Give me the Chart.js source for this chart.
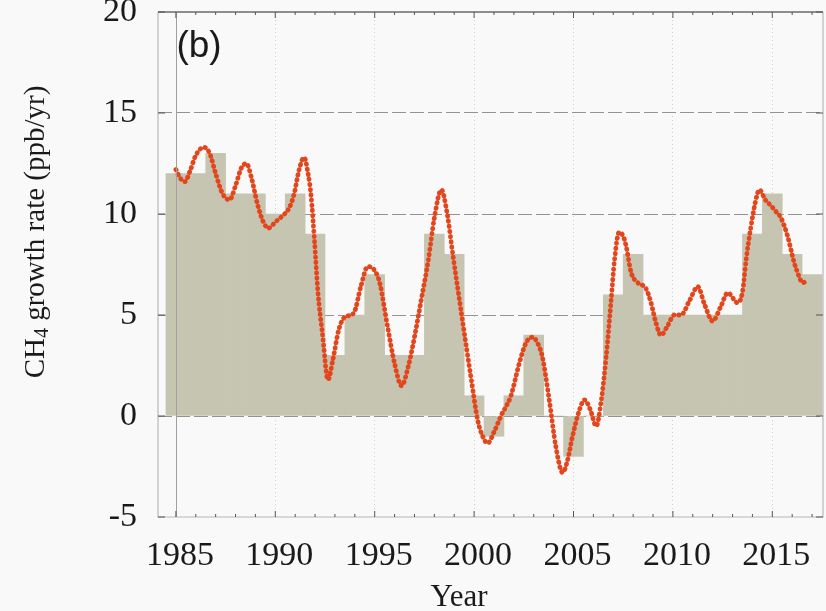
<!DOCTYPE html>
<html>
<head>
<meta charset="utf-8">
<title>CH4 growth rate</title>
<script src="https://cdn.jsdelivr.net/npm/chart.js@4.4.1/dist/chart.umd.min.js"></script>
<style>
    html, body { margin: 0; padding: 0; background: #f9f9f9; }
    #wrap { position: relative; width: 826px; height: 611px; }
</style>
</head>
<body>
<div id="wrap"><canvas id="ch4Chart"></canvas></div>
<script>
// annual growth rate (grey bars), ppb/yr
const barYears = [1985, 1986, 1987, 1988, 1989, 1990, 1991, 1992, 1993, 1994, 1995,
    1996, 1997, 1998, 1999, 2000, 2001, 2002, 2003, 2004, 2005, 2006, 2007, 2008,
    2009, 2010, 2011, 2012, 2013, 2014, 2015, 2016, 2017];
const barValues = [12, 12, 13, 11, 11, 10, 11, 9, 3, 5, 7,
    3, 3, 9, 8, 1, -1, 1, 4, 0, -2, 0, 6, 8,
    5, 5, 5, 5, 5, 9, 11, 8, 7];

// smoothed growth rate (red dotted curve)
const curveYears = [1985.0, 1985.2, 1985.45, 1985.7, 1986.0, 1986.4, 1986.7, 1987.0, 1987.35, 1987.7,
    1988.0, 1988.3, 1988.55, 1988.8, 1989.1, 1989.4, 1989.65, 1990.0, 1990.35, 1990.7,
    1990.95, 1991.2, 1991.45, 1991.65, 1991.8, 1991.97, 1992.14, 1992.39, 1992.65, 1992.9,
    1993.2, 1993.5, 1993.95, 1994.3, 1994.65, 1995.0, 1995.25, 1995.67, 1996.0, 1996.35,
    1996.7, 1997.0, 1997.35, 1997.68, 1998.0, 1998.35, 1998.65, 1998.93, 1999.36, 1999.86,
    2000.18, 2000.43, 2000.68, 2001.0, 2001.35, 2001.85, 2002.27, 2002.6, 2002.94, 2003.2,
    2003.44, 2003.78, 2004.11, 2004.45, 2004.7, 2004.95, 2005.3, 2005.55, 2005.85, 2006.14,
    2006.4, 2006.64, 2006.89, 2007.06, 2007.3, 2007.5, 2007.65, 2007.9, 2008.23, 2008.65,
    2008.9, 2009.15, 2009.4, 2009.75, 2010.07, 2010.41, 2010.83, 2011.25, 2011.6, 2012.0,
    2012.4, 2012.76, 2013.26, 2013.51, 2013.68, 2013.93, 2014.15, 2014.35, 2014.65, 2014.94,
    2015.2, 2015.44, 2015.77, 2016.1, 2016.35, 2016.52, 2016.77];
const curveValues = [12.2, 11.8, 11.6, 12.1, 12.9, 13.3, 13.0, 12.0, 11.0, 10.7,
    11.4, 12.3, 12.5, 11.8, 10.5, 9.6, 9.3, 9.6, 9.9, 10.3,
    11.0, 12.2, 12.8, 12.0, 10.9, 8.7, 6.2, 3.9, 1.8, 2.8,
    4.3, 4.9, 5.1, 6.4, 7.4, 7.2, 6.6, 4.3, 2.6, 1.5,
    2.5, 3.9, 5.8, 7.6, 9.8, 11.2, 10.0, 8.0, 5.1, 1.8,
    -0.2, -1.0, -1.35, -0.8, 0.0, 1.0, 2.6, 3.6, 3.9, 3.6,
    2.9, 0.8, -1.5, -2.8, -2.2, -1.0, 0.3, 0.8, 0.3, -0.5,
    0.8, 2.9, 5.7, 7.7, 9.1, 8.9, 8.4, 7.1, 6.6, 6.3,
    5.6, 4.6, 4.0, 4.5, 5.0, 5.0, 5.7, 6.4, 5.5, 4.7,
    5.4, 6.1, 5.6, 6.2, 7.7, 9.4, 10.6, 11.2, 10.7, 10.4,
    10.1, 9.8, 8.9, 7.6, 6.9, 6.6, 6.7];

const xTickYears = [1985, 1990, 1995, 2000, 2005, 2010, 2015];
const yTickValues = [-5, 0, 5, 10, 15, 20];

const SERIF = '"Liberation Serif", "Times New Roman", serif';
const SANS = '"Liberation Sans", Arial, sans-serif';

// frame, inward ticks, panel letter and axis titles
const decorPlugin = {
    id: 'decor',
    beforeDraw(chart) {
        const ctx = chart.ctx;
        ctx.save();
        ctx.fillStyle = '#f9f9f9';
        ctx.fillRect(0, 0, chart.width, chart.height);
        ctx.restore();
    },
    afterDraw(chart) {
        const ctx = chart.ctx;
        const area = chart.chartArea;
        const xs = chart.scales.x;
        const ys = chart.scales.y;
        ctx.save();

        // solid line at the first labelled year
        const x85 = Math.round(xs.getPixelForValue(xTickYears[0])) + 0.5;
        ctx.strokeStyle = '#a0a0a0';
        ctx.lineWidth = 1;
        ctx.beginPath();
        ctx.moveTo(x85, area.top);
        ctx.lineTo(x85, area.bottom);
        ctx.stroke();

        // frame
        ctx.strokeStyle = '#b8b8b8';
        ctx.lineWidth = 1.2;
        ctx.beginPath();
        ctx.moveTo(area.left, area.top);
        ctx.lineTo(area.left, area.bottom);
        ctx.lineTo(area.right, area.bottom);
        ctx.lineTo(area.right, area.top);
        ctx.stroke();
        ctx.strokeStyle = '#6a6a6a';
        ctx.lineWidth = 1.5;
        ctx.beginPath();
        ctx.moveTo(area.left, area.top);
        ctx.lineTo(area.right, area.top);
        ctx.stroke();

        // inward ticks: one per year on top/bottom, one per label on the sides
        ctx.strokeStyle = '#555';
        ctx.lineWidth = 1;
        for (let yr = Math.ceil(xs.min); yr <= xs.max; yr++) {
            const px = xs.getPixelForValue(yr);
            const len = xTickYears.includes(yr) ? 6 : 3;
            ctx.beginPath();
            ctx.moveTo(px, area.top);
            ctx.lineTo(px, area.top + len);
            ctx.moveTo(px, area.bottom);
            ctx.lineTo(px, area.bottom - len);
            ctx.stroke();
        }
        yTickValues.forEach(v => {
            const py = ys.getPixelForValue(v);
            ctx.beginPath();
            ctx.moveTo(area.left, py);
            ctx.lineTo(area.left + 7, py);
            ctx.moveTo(area.right, py);
            ctx.lineTo(area.right - 7, py);
            ctx.stroke();
        });

        ctx.fillStyle = '#1a1a1a';

        // panel letter
        ctx.font = '37px ' + SANS;
        ctx.textAlign = 'center';
        ctx.textBaseline = 'alphabetic';
        ctx.fillText('(b)', 199, 57);

        // x title
        ctx.font = '31px ' + SERIF;
        ctx.fillText('Year', 459, 606);

        // y title with subscript 4
        const parts = [
            { t: 'CH', size: 29, dy: 0 },
            { t: '4', size: 20, dy: 7 },
            { t: ' growth rate (ppb/yr)', size: 29, dy: 0 }
        ];
        let total = 0;
        parts.forEach(p => {
            ctx.font = p.size + 'px ' + SERIF;
            p.w = ctx.measureText(p.t).width;
            total += p.w;
        });
        ctx.translate(36, 232);
        ctx.rotate(-Math.PI / 2);
        ctx.textAlign = 'left';
        ctx.textBaseline = 'middle';
        let cx = -total / 2;
        parts.forEach(p => {
            ctx.font = p.size + 'px ' + SERIF;
            ctx.fillText(p.t, cx, p.dy);
            cx += p.w;
        });

        ctx.restore();
    }
};

const ctx = document.getElementById('ch4Chart');

new Chart(ctx, {
    data: {
        datasets: [{
            type: 'line',
            label: 'Growth rate (smoothed)',
            data: curveYears.map((yr, i) => ({ x: yr, y: curveValues[i] })),
            borderColor: '#e2461d',
            borderWidth: 4.8,
            borderDash: [0.4, 4.8],
            borderCapStyle: 'round',
            pointRadius: 0,
            cubicInterpolationMode: 'monotone',
            fill: false,
            order: 0
        }, {
            type: 'bar',
            label: 'Annual growth rate',
            data: barYears.map((yr, i) => ({ x: yr, y: barValues[i] })),
            backgroundColor: '#c6c5b1',
            borderWidth: 0,
            barPercentage: 1.0,
            categoryPercentage: 1.0,
            grouped: false,
            order: 1
        }]
    },
    options: {
        responsive: true,
        maintainAspectRatio: false,
        animation: false,
        layout: {
            padding: { top: 12, right: 3, left: 0, bottom: 0 }
        },
        plugins: {
            legend: { display: false },
            tooltip: { enabled: false }
        },
        scales: {
            x: {
                type: 'linear',
                offset: false,
                min: 1984.1,
                max: 2017.55,
                z: 1,
                afterBuildTicks: axis => {
                    axis.ticks = xTickYears.map(v => ({ value: v }));
                },
                afterFit: axis => {
                    axis.height = 94;
                    axis.paddingLeft = 0;
                    axis.paddingRight = 0;
                },
                grid: {
                    offset: false,
                    drawTicks: false,
                    lineWidth: 1,
                    color: c => (c.tick && c.tick.value === xTickYears[0]) ? 'rgba(0,0,0,0)' : '#cfcfcf'
                },
                border: { display: false, dash: [1, 3] },
                ticks: {
                    autoSkip: false,
                    maxRotation: 0,
                    padding: 19,
                    labelOffset: 4,
                    color: '#1a1a1a',
                    font: { family: SERIF, size: 34 },
                    callback: v => String(v)
                }
            },
            y: {
                min: -5,
                max: 20,
                z: 1,
                afterBuildTicks: axis => {
                    axis.ticks = yTickValues.map(v => ({ value: v }));
                },
                afterFit: axis => {
                    axis.width = 158;
                    axis.paddingTop = 0;
                    axis.paddingBottom = 0;
                },
                grid: {
                    drawTicks: false,
                    lineWidth: 1,
                    color: c => {
                        const v = c.tick ? c.tick.value : null;
                        return (v === -5 || v === 20) ? 'rgba(0,0,0,0)' : '#939393';
                    }
                },
                border: { display: false, dash: [14, 4] },
                ticks: {
                    padding: 21,
                    color: '#1a1a1a',
                    font: { family: SERIF, size: 34 },
                    callback: v => String(v)
                }
            }
        }
    },
    plugins: [decorPlugin]
});
</script>
</body>
</html>
